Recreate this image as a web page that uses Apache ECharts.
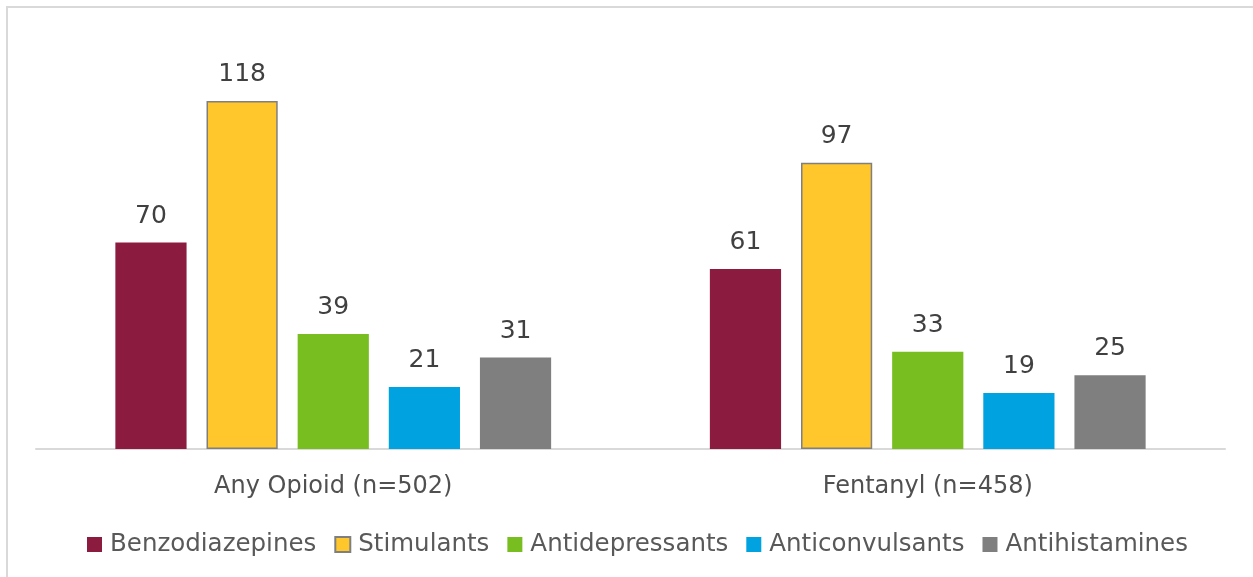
<!DOCTYPE html>
<html>
<head>
<meta charset="utf-8">
<script src="https://cdn.jsdelivr.net/npm/echarts@6/dist/echarts.min.js"></script>
<style>
  html, body { margin: 0; padding: 0; background: #ffffff; }
  #chart { width: 1253px; height: 577px; }
</style>
</head>
<body>
<div id="chart"></div>
<script>
// Drug classes found alongside opioids, counts per group
const categories = ['Any Opioid (n=502)', 'Fentanyl (n=458)'];
const benzodiazepines = [70, 61];
const stimulants = [118, 97];
const antidepressants = [39, 33];
const anticonvulsants = [21, 19];
const antihistamines = [31, 25];

const seriesDefs = [
  { name: 'Benzodiazepines', data: benzodiazepines, color: '#8B1C3F' },
  { name: 'Stimulants', data: stimulants, color: '#FFC72C', border: '#7F7F7F' },
  { name: 'Antidepressants', data: antidepressants, color: '#78BE21' },
  { name: 'Anticonvulsants', data: anticonvulsants, color: '#00A3E0' },
  { name: 'Antihistamines', data: antihistamines, color: '#7F7F7F' }
];

const FONT = '"DejaVu Sans", "Liberation Sans", sans-serif';

const chart = echarts.init(document.getElementById('chart'));
chart.setOption({
  animation: false,
  backgroundColor: '#ffffff',
  // frame along the left and top edges
  graphic: [{
    type: 'polyline',
    shape: { points: [[7, 700], [7, 7], [1400, 7]] },
    style: { fill: null, stroke: '#D9D9D9', lineWidth: 2 },
    silent: true
  }],
  grid: { left: 36, right: 28, top: 36, bottom: 128 },
  legend: {
    left: 82,
    top: 527,
    itemWidth: 15,
    itemHeight: 15,
    itemGap: 18,
    icon: 'rect',
    textStyle: { fontFamily: FONT, fontSize: 24.5, color: '#595959', padding: [0, 0, 0, 3] },
    data: seriesDefs.map(s => s.name)
  },
  xAxis: {
    type: 'category',
    data: categories,
    axisLine: { lineStyle: { color: '#D9D9D9', width: 2 } },
    axisTick: { show: false },
    axisLabel: {
      fontFamily: FONT, fontSize: 24, color: '#505050', margin: 26
    }
  },
  yAxis: {
    type: 'value',
    min: 0,
    max: 140,
    interval: 20,
    show: false,
    splitLine: { show: false }
  },
  series: seriesDefs.map(s => ({
    name: s.name,
    type: 'bar',
    data: s.data,
    barGap: '28%',
    barCategoryGap: '26.7%',
    itemStyle: {
      color: s.color,
      borderColor: s.border || s.color,
      borderWidth: s.border ? 1.5 : 0
    },
    label: {
      show: true,
      position: 'top',
      distance: 14,
      fontFamily: FONT,
      fontSize: 25,
      color: '#404040'
    }
  }))
});
</script>
</body>
</html>
